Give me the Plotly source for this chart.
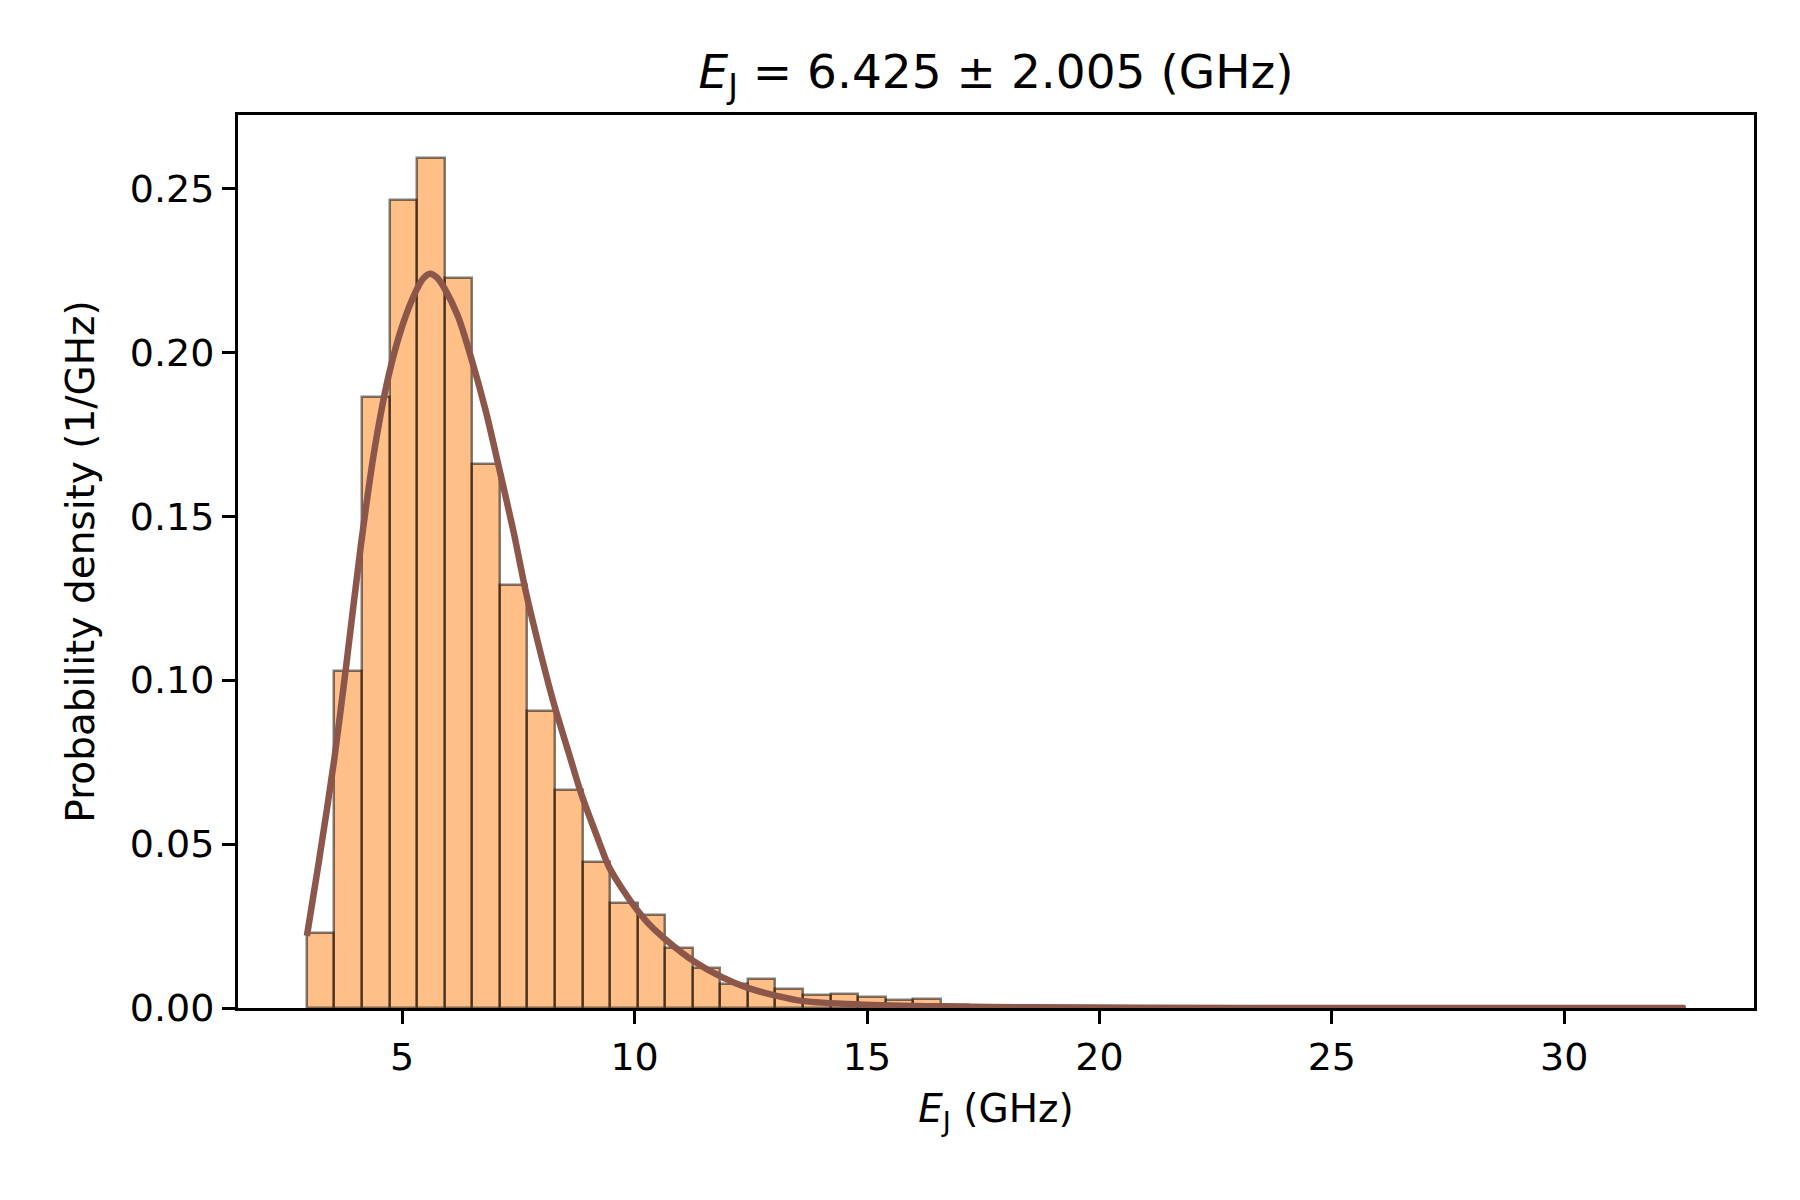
import numpy as np
import plotly.graph_objects as go

# Histogram data (density, 1/GHz), 50 equal bins between bin_lo and bin_hi
bin_lo = 2.95
bin_hi = 32.6
density = [
    0.0229, 0.1027, 0.1865, 0.2466, 0.2594, 0.2228, 0.1660, 0.1291, 0.0905, 0.0665,
    0.0446, 0.0320, 0.0285, 0.0183, 0.0123, 0.0072, 0.0089, 0.0059, 0.0040, 0.0042,
    0.0034, 0.0023, 0.0028, 0.0008, 0.0006, 0.0004, 0.0003, 0.0002, 0.0002, 0.0000,
    0.0002, 0.0000, 0.0000, 0.0002, 0.0000, 0.0000, 0.0000, 0.0000, 0.0002, 0.0000,
    0.0000, 0.0000, 0.0000, 0.0000, 0.0000, 0.0000, 0.0000, 0.0000, 0.0000, 0.0002,
]

# Fitted curve
fit_x = [2.95, 3.2, 3.54, 3.8, 4.11, 4.4, 4.71, 5.0, 5.29, 5.45, 5.6, 5.75, 5.89,
         6.2, 6.49, 6.8, 7.08, 7.4, 7.66, 8.0, 8.26, 8.6, 8.86, 9.2, 9.45, 9.75,
         10.05, 10.35, 10.66, 11.27, 11.88, 12.42, 13.06, 13.63, 14.82, 16.6,
         18.5, 21.0, 25.0, 32.6]
fit_y = [0.022, 0.044, 0.076, 0.105, 0.141, 0.170, 0.193, 0.208, 0.2185, 0.2225,
         0.2240, 0.2228, 0.2200, 0.211, 0.198, 0.182, 0.165, 0.145, 0.127, 0.107,
         0.093, 0.077, 0.065, 0.052, 0.043, 0.036, 0.030, 0.025, 0.021, 0.0143,
         0.0094, 0.0062, 0.0037, 0.0021, 0.0011, 0.0005, 0.0002, 0.0001, 0.0, 0.0]

x_ticks = [5, 10, 15, 20, 25, 30]
y_ticks = [0.00, 0.05, 0.10, 0.15, 0.20, 0.25]

title_text = "<i>E</i><sub>J</sub> = 6.425 ± 2.005 (GHz)"
xlabel_text = "<i>E</i><sub>J</sub> (GHz)"
ylabel_text = "Probability density (1/GHz)"

n_bins = len(density)
width = (bin_hi - bin_lo) / n_bins
edges = np.linspace(bin_lo, bin_hi, n_bins + 1)
centers = (edges[:-1] + edges[1:]) / 2

FONT = "DejaVu Sans"

fig = go.Figure()
fig.add_trace(go.Bar(
    x=centers, y=density, width=width,
    marker=dict(color="rgba(255,127,14,0.5)",
                line=dict(color="rgba(0,0,0,0.5)", width=2.5)),
    showlegend=False,
))
fig.add_trace(go.Scatter(
    x=fit_x, y=fit_y, mode="lines",
    line=dict(color="#8c564b", width=6.5, shape="spline", smoothing=0.8),
    showlegend=False,
))

span = bin_hi - bin_lo
fig.update_layout(
    width=1800, height=1200,
    margin=dict(l=238, r=46, t=115, b=192),
    paper_bgcolor="white", plot_bgcolor="white",
    font=dict(family=FONT, size=38, color="black"),
    bargap=0,
    title=dict(text=title_text, x=(238 + (1800 - 46 - 238) / 2) / 1800, xanchor="center",
               y=1 - 72 / 1200, yanchor="middle", font=dict(size=47, family=FONT)),
    xaxis=dict(range=[bin_lo - 0.05 * span, bin_hi + 0.05 * span],
               tickvals=x_ticks, ticktext=[str(v) for v in x_ticks],
               ticks="outside", ticklen=13, tickwidth=3, tickcolor="black",
               showline=True, linewidth=3, linecolor="black", mirror=True,
               showgrid=False, zeroline=False,
               title=dict(text=xlabel_text, standoff=18, font=dict(size=39))),
    yaxis=dict(range=[0, 0.2724],
               tickvals=y_ticks, ticktext=[f"{v:.2f}" for v in y_ticks],
               ticks="outside", ticklen=13, tickwidth=3, tickcolor="black",
               showline=True, linewidth=3, linecolor="black", mirror=True,
               showgrid=False, zeroline=False,
               title=dict(text=ylabel_text, standoff=24, font=dict(size=39))),
)

fig.write_html("out.html")
